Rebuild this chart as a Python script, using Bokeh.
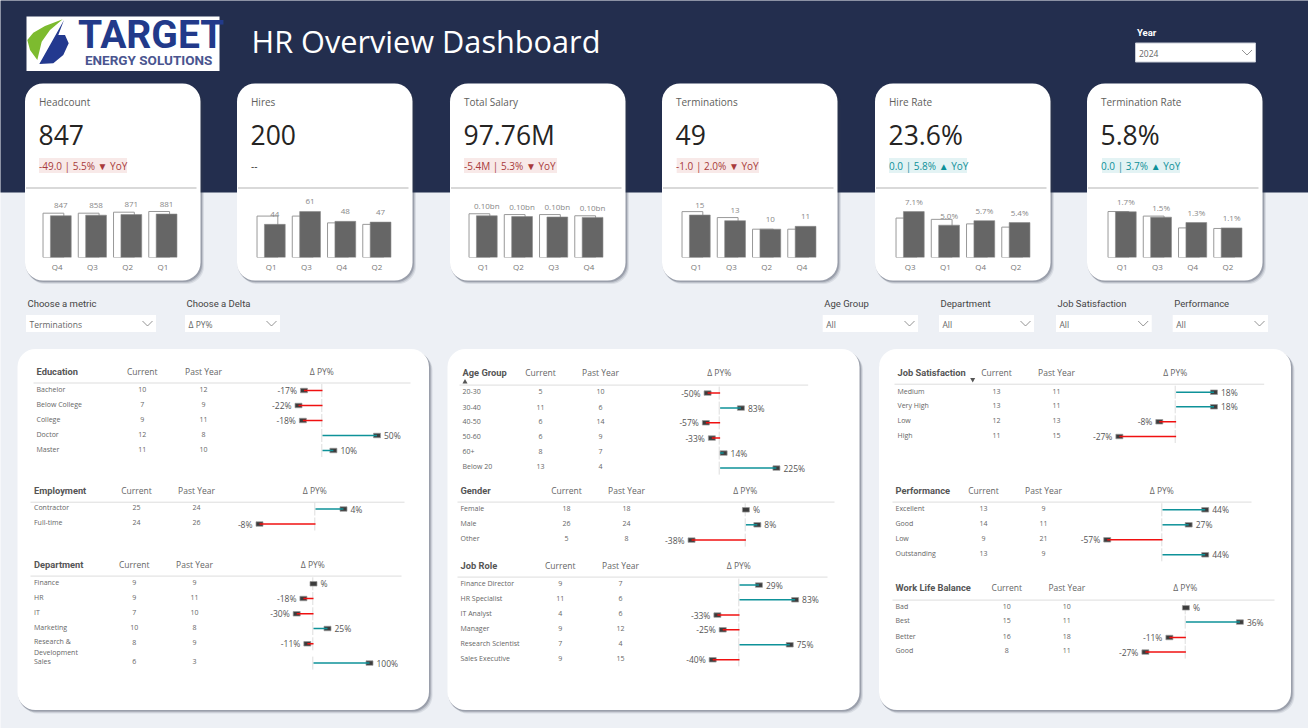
from bokeh.core.properties import value
from bokeh.embed import file_html
from bokeh.resources import INLINE
from bokeh.layouts import column
from bokeh.models import ColumnDataSource, FactorRange, Range1d
from bokeh.plotting import figure
from bokeh.transform import dodge

# ---------- KPI data ----------
KPI_TITLES = ["Headcount", "Hires", "Total Salary", "Terminations", "Hire Rate", "Termination Rate"]
KPI_VALUES = ["847", "200", "97.76M", "49", "23.6%", "5.8%"]
KPI_DELTAS = ["-49.0 | 5.5% ▼ YoY", "--", "-5.4M | 5.3% ▼ YoY", "-1.0 | 2.0% ▼ YoY", "0.0 | 5.8% ▲ YoY", "0.0 | 3.7% ▲ YoY"]

HEADCOUNT_Q = ["Q4", "Q3", "Q2", "Q1"]
HEADCOUNT_CUR = [847, 858, 871, 881]
HEADCOUNT_PY = [899, 899, 919, 933]
HEADCOUNT_LBL = ["847", "858", "871", "881"]

HIRES_Q = ["Q1", "Q3", "Q4", "Q2"]
HIRES_CUR = [44, 61, 48, 47]
HIRES_PY = [55, 55, 46, 44]
HIRES_LBL = ["44", "61", "48", "47"]

SALARY_Q = ["Q1", "Q2", "Q3", "Q4"]
SALARY_CUR = [0.103, 0.101, 0.100, 0.099]
SALARY_PY = [0.108, 0.106, 0.106, 0.103]
SALARY_LBL = ["0.10bn", "0.10bn", "0.10bn", "0.10bn"]

TERM_Q = ["Q1", "Q3", "Q2", "Q4"]
TERM_CUR = [15, 13, 10, 11]
TERM_PY = [16.2, 14.1, 10, 10]
TERM_LBL = ["15", "13", "10", "11"]

HRATE_Q = ["Q3", "Q1", "Q4", "Q2"]
HRATE_CUR = [7.1, 5.0, 5.7, 5.4]
HRATE_PY = [6.1, 5.9, 5.2, 4.7]
HRATE_LBL = ["7.1%", "5.0%", "5.7%", "5.4%"]

TRATE_Q = ["Q1", "Q3", "Q4", "Q2"]
TRATE_CUR = [1.7, 1.5, 1.3, 1.1]
TRATE_PY = [1.71, 1.54, 1.10, 1.08]
TRATE_LBL = ["1.7%", "1.5%", "1.3%", "1.1%"]

# ---------- table data ----------
EDU_CATS = ["Bachelor", "Below College", "College", "Doctor", "Master"]
EDU_CUR = [10, 7, 9, 12, 11]
EDU_PY = [12, 9, 11, 8, 10]
EDU_DELTA = [-17, -22, -18, 50, 10]

EMP_CATS = ["Contractor", "Full-time"]
EMP_CUR = [25, 24]
EMP_PY = [24, 26]
EMP_DELTA = [4, -8]

DEPT_CATS = ["Finance", "HR", "IT", "Marketing", "Research &\nDevelopment", "Sales"]
DEPT_CUR = [9, 9, 7, 10, 8, 6]
DEPT_PY = [9, 11, 10, 8, 9, 3]
DEPT_DELTA = [0, -18, -30, 25, -11, 100]

AGE_CATS = ["20-30", "30-40", "40-50", "50-60", "60+", "Below 20"]
AGE_CUR = [5, 11, 6, 6, 8, 13]
AGE_PY = [10, 6, 14, 9, 7, 4]
AGE_DELTA = [-50, 83, -57, -33, 14, 225]

GENDER_CATS = ["Female", "Male", "Other"]
GENDER_CUR = [18, 26, 5]
GENDER_PY = [18, 24, 8]
GENDER_DELTA = [0, 8, -38]

ROLE_CATS = ["Finance Director", "HR Specialist", "IT Analyst", "Manager", "Research Scientist", "Sales Executive"]
ROLE_CUR = [9, 11, 4, 9, 7, 9]
ROLE_PY = [7, 6, 6, 12, 4, 15]
ROLE_DELTA = [29, 83, -33, -25, 75, -40]

JOBSAT_CATS = ["Medium", "Very High", "Low", "High"]
JOBSAT_CUR = [13, 13, 12, 11]
JOBSAT_PY = [11, 11, 13, 15]
JOBSAT_DELTA = [18, 18, -8, -27]

PERF_CATS = ["Excellent", "Good", "Low", "Outstanding"]
PERF_CUR = [13, 14, 9, 13]
PERF_PY = [9, 11, 21, 9]
PERF_DELTA = [44, 27, -57, 44]

WLB_CATS = ["Bad", "Best", "Better", "Good"]
WLB_CUR = [10, 15, 16, 8]
WLB_PY = [10, 11, 18, 11]
WLB_DELTA = [0, 36, -11, -27]

# ---------- styles ----------
NAVY = "#232E4E"
PAGE = "#EDF0F5"
SANS = "Open Sans"
HEAD = "Roboto"
W, H = 1308, 728
SHIFT = -0.5


def abs_style(x, y):
    return {"position": "absolute", "left": f"{x}px", "top": f"{y}px"}


bg = figure(width=W, height=H, x_range=Range1d(-SHIFT, W - SHIFT), y_range=Range1d(H - SHIFT, -SHIFT),
            output_backend="svg", toolbar_location=None, min_border=0,
            outline_line_color=None, background_fill_color=PAGE,
            border_fill_color=PAGE, styles=abs_style(0, 0))
bg.axis.visible = False
bg.grid.visible = False


def txt(p, x, y, s, size, color, font=SANS, align="left", style="normal", base="middle"):
    p.text([x], [y], text=[s], text_font=value(font), text_font_size=f"{size}px", text_color=color,
           text_align=align, text_baseline=base, text_font_style=style)


def card(x0, x1, y0, y1, r=18):
    for d, a in ((3.5, .10), (2.5, .16), (1.5, .25)):
        bg.quad(left=[x0 + d - 1], right=[x1 + d], top=[y0 + d], bottom=[y1 + d],
                fill_color="#30364a", fill_alpha=a, line_color=None, border_radius=r)
    bg.quad(left=[x0], right=[x1], top=[y0], bottom=[y1], fill_color="white",
            line_color=None, border_radius=r)


def chevron(cx, cy):
    bg.line([cx - 5, cx, cx + 5], [cy - 2.5, cy + 2.5, cy - 2.5], line_color="#777777", line_width=.8)


def slicer(label, value_text, x0, x1, ly, y0, y1, lcolor="#444444", border=None, lbold=False):
    txt(bg, x0 + 1.5, ly, label, 9.5, lcolor, font=HEAD, style="bold" if lbold else "normal")
    bg.quad(left=[x0], right=[x1], top=[y0], bottom=[y1], fill_color="white", line_color=border)
    txt(bg, x0 + 3.5, (y0 + y1) / 2 + .5, value_text, 8.5, "#666666")
    chevron(x1 - 8.5, (y0 + y1) / 2)


# header
bg.quad(left=[-2], right=[W + 2], top=[-2], bottom=[192.5], fill_color=NAVY, line_color=None)

# logo
bg.quad(left=[26.5], right=[219.5], top=[16.5], bottom=[71], fill_color="white", line_color=None)
bg.patch([27.3, 33.3, 45, 62.7, 50, 41.7, 37.3, 30], [40, 32.7, 26, 19.3, 30, 41.7, 60, 50],
         fill_color="#7DBB2F", line_color=None)
bg.patch([64, 58.3, 65, 68.7, 63.3, 53.3, 39.3, 50], [20, 35, 35, 43.3, 55, 63.3, 64, 45],
         fill_color="#23398F", line_color=None)
txt(bg, 78, 35, "TARGET", 39, "#223A8A", font="Roboto", style="bold")
txt(bg, 85, 60, "ENERGY SOLUTIONS", 13.5, "#4A558F", font="Roboto", style="bold")

txt(bg, 251.5, 40.5, "HR Overview Dashboard", 30.7, "#FFFFFF")

# slicers
slicer("Year", "2024", 1135.5, 1255.5, 32, 43, 62, lcolor="#FFFFFF", border="#C8CCD6", lbold=True)
slicer("Choose a metric", "Terminations", 26, 156, 303.5, 315, 332)
slicer("Choose a Delta", "Δ PY%", 185, 280, 303.5, 315, 332)
slicer("Age Group", "All", 822.7, 918, 303.5, 315, 332)
slicer("Department", "All", 939, 1034, 303.5, 315, 332)
slicer("Job Satisfaction", "All", 1056, 1151.7, 303.5, 315, 332)
slicer("Performance", "All", 1172.7, 1268, 303.5, 315, 332)

# big cards
for cx0, cx1 in ((17.5, 429), (447.5, 859.5), (879, 1291)):
    card(cx0, cx1, 349, 710)

# KPI cards
KPI_X = [25, 237, 450, 662, 875, 1087]
KPI_W = 175.5
KPI_BG = [(39, 127), None, (464, 557), (676.7, 759), (889, 967), (1102, 1180)]
for i, cx in enumerate(KPI_X):
    card(cx, cx + KPI_W, 83.5, 280.5)
    t = cx + 14
    txt(bg, t, 102, KPI_TITLES[i], 10, "#605E5C")
    txt(bg, t - .5, 135, KPI_VALUES[i], 26.5, "#252423")
    b = KPI_BG[i]
    neg = i in (0, 2, 3)
    if b:
        bg.quad(left=[b[0]], right=[b[1]], top=[158], bottom=[173],
                fill_color="#F8E9E8" if neg else "#E3F3F4", line_color=None)
    color = "#A83A3A" if neg else "#0E9099"
    txt(bg, t, 166, KPI_DELTAS[i], 10, color if b else "#333333")
    bg.line([cx + 1, cx + KPI_W - 4], [188, 188], line_color="#CCCCCC", line_width=1.5)

# sort arrows
bg.scatter([465], [382], marker="triangle", size=5, fill_color="#555555", line_color=None)
bg.scatter([972.7], [379.5], marker="inverted_triangle", size=5, fill_color="#555555", line_color=None)


# ---------- KPI charts ----------
def kpi_chart(quarters, cur, py, labels, ymax, center0):
    step, fh, bottom = 35.3, 64, 20
    fw = step * 4
    left = center0 - step / 2 + SHIFT
    top = 257 - fh + SHIFT
    p = figure(width=round(fw), height=fh + bottom,
               x_range=FactorRange(*quarters, factor_padding=0, range_padding=0),
               y_range=Range1d(0, ymax), output_backend="svg", toolbar_location=None,
               min_border=0, min_border_bottom=bottom, outline_line_color=None,
               background_fill_alpha=0, border_fill_alpha=0,
               styles=abs_style(left, top))
    p.yaxis.visible = False
    p.grid.visible = False
    ax = p.xaxis[0]
    ax.axis_line_color = None
    ax.major_tick_line_color = None
    ax.major_tick_out = 0
    ax.major_tick_in = 0
    ax.major_label_text_font = SANS
    ax.major_label_text_font_size = "8px"
    ax.major_label_text_color = "#777777"
    ax.major_label_standoff = 3
    src = ColumnDataSource(dict(q=quarters, cur=cur, py=py, lbl=labels))
    p.vbar(x=dodge("q", -0.105, range=p.x_range), top="py", width=0.59, source=src,
           fill_color="white", line_color="#999999", line_width=1)
    p.vbar(x=dodge("q", 0.105, range=p.x_range), top="cur", width=0.59, source=src,
           fill_color="#666666", line_color="#8a8a8a", line_width=.6)
    p.text(x=dodge("q", 0.105, range=p.x_range), y="cur", text="lbl", source=src, y_offset=-10,
           text_font=value(SANS), text_font_size="8px", text_color="#888888",
           text_align="center", text_baseline="middle")
    return p


kpis = [
    kpi_chart(HEADCOUNT_Q, HEADCOUNT_CUR, HEADCOUNT_PY, HEADCOUNT_LBL, 1298, 57),
    kpi_chart(HIRES_Q, HIRES_CUR, HIRES_PY, HIRES_LBL, 85, 271),
    kpi_chart(SALARY_Q, SALARY_CUR, SALARY_PY, SALARY_LBL, 0.158, 483.5),
    kpi_chart(TERM_Q, TERM_CUR, TERM_PY, TERM_LBL, 22.6, 696.3),
    kpi_chart(HRATE_Q, HRATE_CUR, HRATE_PY, HRATE_LBL, 9.9, 910),
    kpi_chart(TRATE_Q, TRATE_CUR, TRATE_PY, TRATE_LBL, 2.38, 1122.5),
]


# ---------- tables ----------
def table(title, cats, cur, py, delta, *, left, right, head_y, rule_y, cat_x, cur_x, py_x, zero_x,
          ppp, text_ys, bar_ys):
    x0, y0 = left - 2, head_y - 10
    w = right - left + 10
    h = max(bar_ys) - y0 + 12
    lx = lambda v: v - x0
    ly = lambda v: v - y0
    zero = lx(zero_x) + .7
    rng = Range1d(-zero / ppp, (w - zero) / ppp)
    p = figure(width=round(w), height=round(h), x_range=Range1d(0, round(w)), y_range=Range1d(round(h), 0),
               output_backend="svg", toolbar_location=None, min_border=0, outline_line_color=None,
               background_fill_alpha=0, border_fill_alpha=0, styles=abs_style(x0 + SHIFT, y0 + SHIFT))
    p.extra_x_ranges = {"delta": rng}
    p.axis.visible = False
    p.grid.visible = False
    # header
    txt(p, lx(cat_x), ly(head_y), title, 9.3, "#555555", font=HEAD, style="bold")
    txt(p, lx(cur_x), ly(head_y), "Current", 8.5, "#666666", align="center")
    txt(p, lx(py_x), ly(head_y), "Past Year", 8.5, "#666666", align="center")
    txt(p, lx(zero_x), ly(head_y), "Δ PY%", 8.5, "#666666", align="center")
    p.line([lx(left), lx(right)], [ly(rule_y)] * 2, line_color="#DDDDDD", line_width=1)
    ty = [ly(v) for v in text_ys]
    by = [ly(v) for v in bar_ys]
    src = ColumnDataSource(dict(
        cat=cats, cur=[str(v) for v in cur], py=[str(v) for v in py], delta=delta, zero=[0] * len(delta),
        ty=ty, cy=[v + 4.7 * c.count("\n") for v, c in zip(ty, cats)], by=by,
        lo=[v - 6.5 for v in by], hi=[v + 6.5 for v in by],
        lbl=[f"{v}%" if v else "%" for v in delta],
        cx=[lx(cur_x)] * len(delta), px=[lx(py_x)] * len(delta),
        zx=[lx(zero_x)] * len(delta), kx=[lx(cat_x)] * len(delta),
    ))
    common = dict(source=src, text_font=value(SANS), text_font_size="7px", text_color="#666666")
    p.text(x="kx", y="cy", text="cat", text_align="left", text_baseline="middle", **common)
    p.text(x="cx", y="ty", text="cur", text_align="center", text_baseline="middle", **common)
    p.text(x="px", y="ty", text="py", text_align="center", text_baseline="middle", **common)
    p.segment(x0="zx", x1="zx", y0="lo", y1="hi", source=src, line_color="#DDDDDD", line_width=1)
    p.rect(x="delta", y="by", width=7, height=4.5, width_units="screen", height_units="screen",
           source=src, x_range_name="delta", fill_color="#3C3C3C", line_color="#999999", line_width=.7)
    colors = ["#F01010" if v < 0 else "#0E9299" for v in delta]
    src.add(colors, "color")
    p.segment(x0="zero", x1="delta", y0="by", y1="by", source=src, x_range_name="delta",
              line_color="color", line_width=1.5)
    pos = [v >= 0 for v in delta]
    src.add(["left" if v else "right" for v in pos], "al")
    src.add([7 if v else -7 for v in pos], "off")
    p.text(x="delta", y="by", text="lbl", x_offset="off", source=src, x_range_name="delta",
           text_align="al", text_baseline="middle", text_font=value(SANS), text_font_size="8.5px",
           text_color="#555555")
    return p


tables = [
    table("Education", EDU_CATS, EDU_CUR, EDU_PY, EDU_DELTA, left=33, right=410, head_y=371, rule_y=382.5,
          cat_x=36, cur_x=141.7, py_x=203, zero_x=321.3, ppp=1.09,
          text_ys=[388.7, 403.7, 418.7, 433.7, 448.7], bar_ys=[390, 405, 420, 435, 450]),
    table("Employment", EMP_CATS, EMP_CUR, EMP_PY, EMP_DELTA, left=30, right=404, head_y=490, rule_y=501.7,
          cat_x=33.5, cur_x=136, py_x=196, zero_x=314.3, ppp=7.0,
          text_ys=[507.3, 522.3], bar_ys=[508.5, 523.5]),
    table("Department", DEPT_CATS, DEPT_CUR, DEPT_PY, DEPT_DELTA, left=30, right=401, head_y=564.7, rule_y=576.3,
          cat_x=33.5, cur_x=133.7, py_x=194, zero_x=312.3, ppp=0.56,
          text_ys=[582.7, 597.3, 612.3, 627.3, 642.3, 661.3], bar_ys=[584, 598.7, 614, 628.7, 644, 663.3]),
    table("Age Group", AGE_CATS, AGE_CUR, AGE_PY, AGE_DELTA, left=459.3, right=808, head_y=372.7, rule_y=385.3,
          cat_x=462.3, cur_x=540.3, py_x=600.3, zero_x=719, ppp=0.25,
          text_ys=[391.3, 407.3, 421.3, 436.3, 451.3, 466.3], bar_ys=[393.3, 408.3, 423, 438.3, 453.3, 468.3]),
    table("Gender", GENDER_CATS, GENDER_CUR, GENDER_PY, GENDER_DELTA, left=457, right=834, head_y=490.7, rule_y=502.3,
          cat_x=460, cur_x=566, py_x=626, zero_x=744.7, ppp=1.43,
          text_ys=[508.7, 523.7, 538.3], bar_ys=[510, 525, 540.3]),
    table("Job Role", ROLE_CATS, ROLE_CUR, ROLE_PY, ROLE_DELTA, left=457, right=827, head_y=565.7, rule_y=577.3,
          cat_x=460, cur_x=559.7, py_x=620, zero_x=738.3, ppp=0.67,
          text_ys=[583.7, 598.7, 613.7, 628.7, 643.7, 658.7], bar_ys=[585.3, 600, 615.3, 630, 645, 660]),
    table("Job Satisfaction", JOBSAT_CATS, JOBSAT_CUR, JOBSAT_PY, JOBSAT_DELTA, left=894.3, right=1264, head_y=372,
          rule_y=383.7, cat_x=897.3, cur_x=996.3, py_x=1056.3, zero_x=1175, ppp=2.1,
          text_ys=[390.7, 404.7, 419.7, 434.7], bar_ys=[391.7, 406.3, 421.3, 436]),
    table("Performance", PERF_CATS, PERF_CUR, PERF_PY, PERF_DELTA, left=892, right=1251, head_y=490.7, rule_y=502.3,
          cat_x=895, cur_x=983, py_x=1043, zero_x=1161.3, ppp=0.97,
          text_ys=[508.7, 523.7, 538.7, 553.7], bar_ys=[510, 525, 540, 555]),
    table("Work Life Balance", WLB_CATS, WLB_CUR, WLB_PY, WLB_DELTA, left=892, right=1274, head_y=587.7, rule_y=600.3,
          cat_x=895, cur_x=1006.3, py_x=1066.3, zero_x=1184.7, ppp=1.5,
          text_ys=[606.3, 620.3, 636.3, 650.3], bar_ys=[608, 622.3, 637.7, 652.3]),
]

page = column(bg, *kpis, *tables, width=W, height=H, sizing_mode="fixed",
              styles={"position": "absolute", "left": "0px", "top": "0px", "overflow": "visible"})
open("out.html", "w").write(file_html(page, INLINE))
